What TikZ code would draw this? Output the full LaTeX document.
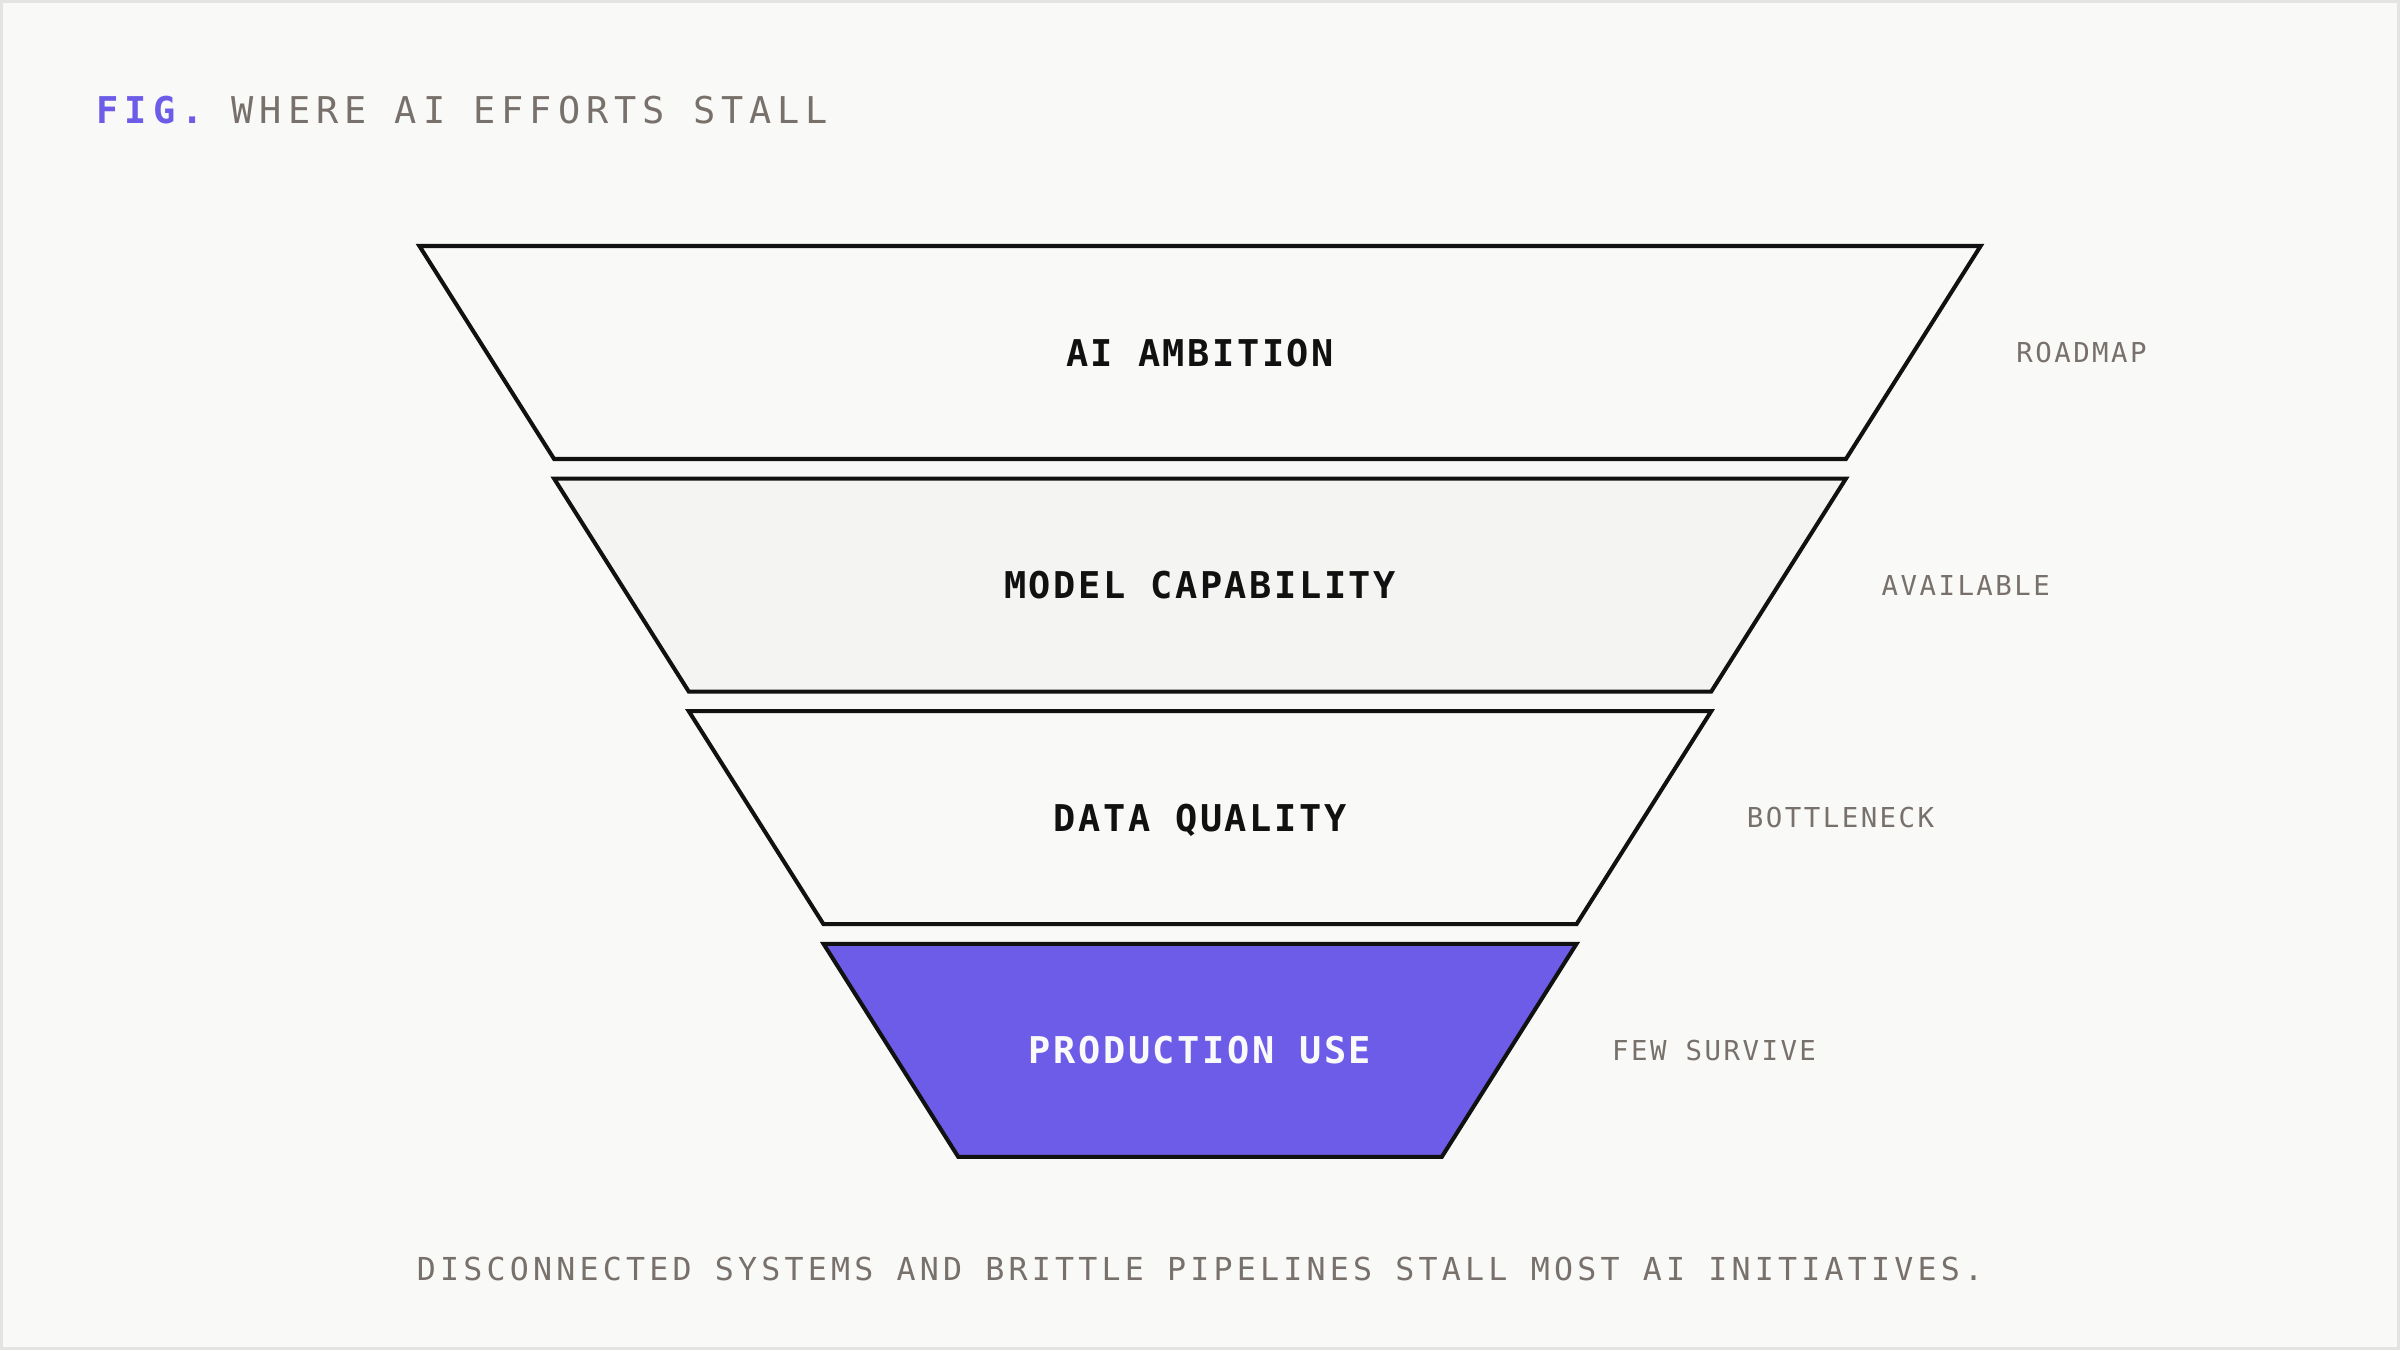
\documentclass[tikz,border=0pt]{standalone}
\usepackage{fontspec}
\setmonofont{DejaVu Sans Mono}
\newfontfamily\titlefont[LetterSpace=16.2]{DejaVu Sans Mono}
\newfontfamily\layerfont[LetterSpace=7]{DejaVu Sans Mono}
\newfontfamily\sidefont[LetterSpace=9]{DejaVu Sans Mono}
\newfontfamily\notefont[LetterSpace=13.3]{DejaVu Sans Mono}
\definecolor{paper}{HTML}{F9F9F7}
\definecolor{frame}{HTML}{E4E4E2}
\definecolor{mist}{HTML}{F4F4F2}
\definecolor{violet}{HTML}{6C5CE7}
\definecolor{ink}{HTML}{111111}
\definecolor{snow}{HTML}{FAFAFA}
\definecolor{stone}{HTML}{77706B}
\tikzset{
  layer/.style={draw=ink, line width=1.15pt, line join=miter},
  layertext/.style={font=\layerfont\bfseries\fontsize{10.5}{12}\selectfont, text height=7.7pt, text depth=0pt, inner sep=0pt},
  sidetext/.style={font=\sidefont\fontsize{7.8}{9}\selectfont, text=stone, text height=5.7pt, text depth=0pt, inner sep=0pt, anchor=west}
}

\begin{document}
\begin{tikzpicture}
    \useasboundingbox (0,0) rectangle (24,13.5);
    \draw[fill=paper, draw=frame, line width=0.03cm] (0.015,0.015) rectangle (23.985,13.485);
    \node[anchor=west, inner sep=0pt, text height=7.7pt, text depth=0pt,
      font=\titlefont\fontsize{10.5}{12}\selectfont, text=stone] (title) at (0.96,12.40)
      {{\bfseries\color{violet}FIG.} WHERE AI EFFORTS STALL};
    \foreach \i/\name/\side/\bg/\fg in {0/AI AMBITION/ROADMAP/paper/ink,
        1/MODEL CAPABILITY/AVAILABLE/mist/ink,
        2/DATA QUALITY/BOTTLENECK/paper/ink,
        3/PRODUCTION USE/FEW SURVIVE/violet/snow} {
      \pgfmathsetmacro\yt{11.04-2.326*\i}
      \pgfmathsetmacro\yb{\yt-2.13}
      \pgfmathsetmacro\wt{7.806-1.347*\i}
      \pgfmathsetmacro\wb{\wt-1.347}
      \draw[layer, fill=\bg] (12-\wt,\yt) -- (12+\wt,\yt) -- (12+\wb,\yb) -- (12-\wb,\yb) -- cycle;
      \node[layertext, text=\fg] (layer\i) at (12,\yt-1.065) {\name};
      \node[sidetext] (side\i) at (12+\wt+0.35,\yt-1.065) {\side};
    }
    \node[font=\notefont\fontsize{9}{11}\selectfont, text=stone, inner sep=0pt,
      text height=6.6pt, text depth=0pt] (note) at (12,0.81)
      {DISCONNECTED SYSTEMS AND BRITTLE PIPELINES STALL MOST AI INITIATIVES.};
  \end{tikzpicture}
\end{document}
